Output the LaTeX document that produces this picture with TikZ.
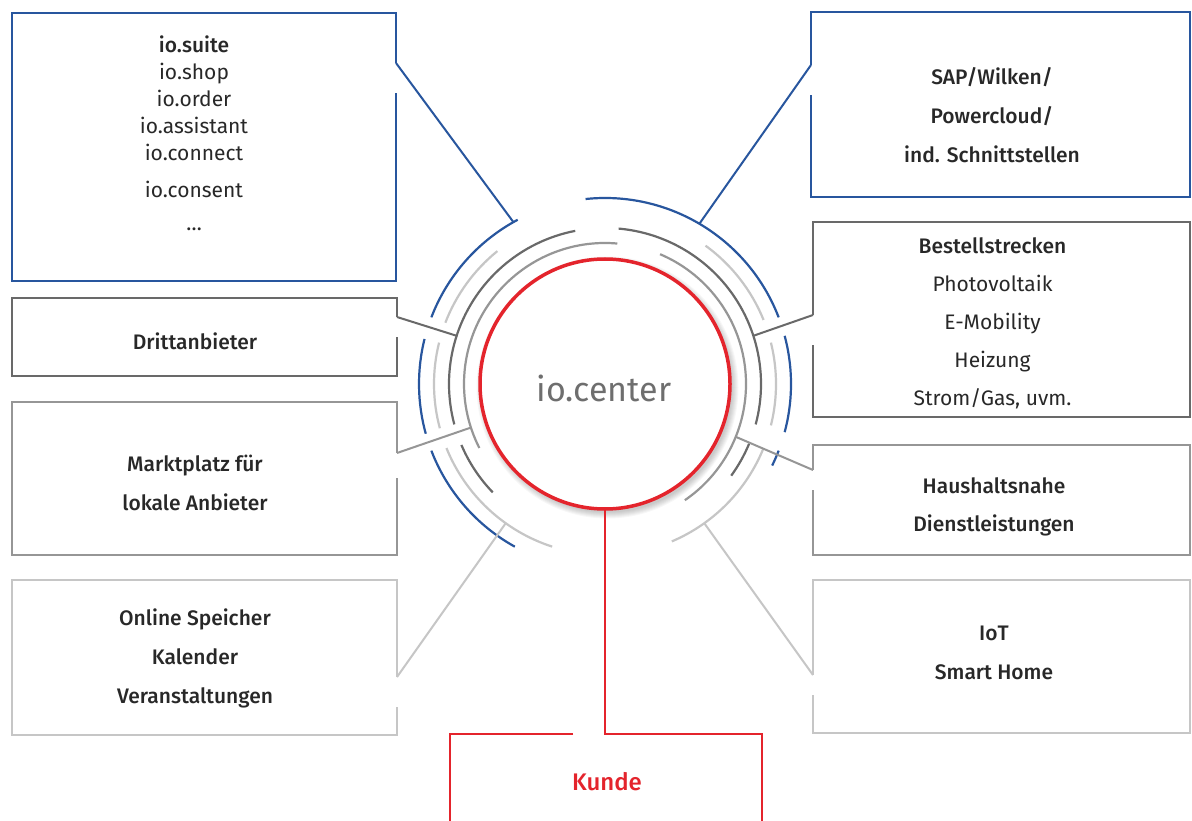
\documentclass[tikz,border=0pt]{standalone}
\usepackage{fontspec}
\setmainfont{Fira Sans}[BoldFont={Fira Sans Medium}]
\definecolor{cblue}{RGB}{40,86,158}
\definecolor{cdark}{RGB}{105,105,105}
\definecolor{cmid}{RGB}{150,150,150}
\definecolor{clight}{RGB}{198,198,198}
\definecolor{cred}{RGB}{228,36,44}
\definecolor{ctext}{RGB}{40,40,40}
\definecolor{cctr}{RGB}{110,110,110}
\newcommand\ringarc[4]{\draw[arcline,draw=#1] (C) ++({-(#3)}:#2) arc[start angle={-(#3)}, end angle={-(#4)}, radius=#2];}
\begin{document}
\begin{tikzpicture}[x=1pt, y=-1pt,
  every node/.style={inner sep=0pt, outer sep=0pt},
  ln/.style={line width=2pt, line join=miter},
  arcline/.style={line width=2.2pt},
  txt/.style={font=\fontsize{21}{#1}\selectfont, align=center, text=ctext, anchor=north},
  txtb/.style={font=\fontsize{21}{#1}\selectfont\bfseries, align=center, text=ctext, anchor=north}]
\useasboundingbox (0,0) rectangle (1192,821);
\fill[white] (0,0) rectangle (1192,821);
\coordinate (C) at (605,384);

% box frames (named nodes, outlines drawn with gaps)
\node[minimum width=384pt, minimum height=268pt] (suite) at (204,147) {};
\node[minimum width=379pt, minimum height=185pt] (sap) at (1000.5,104.5) {};
\node[minimum width=385pt, minimum height=78pt] (dritt) at (204.5,337) {};
\node[minimum width=377pt, minimum height=195pt] (best) at (1001.5,319.5) {};
\node[minimum width=385pt, minimum height=153pt] (markt) at (204.5,478.5) {};
\node[minimum width=377pt, minimum height=110pt] (haus) at (1001.5,500) {};
\node[minimum width=385pt, minimum height=155pt] (online) at (204.5,657.5) {};
\node[minimum width=377pt, minimum height=153pt] (iot) at (1001.5,656.5) {};
\node[minimum width=312pt, minimum height=87pt] (kunde) at (606,777.5) {};

% texts
\node[txt=27pt] (suiteT) at (194,32.7) {\rule{0pt}{20pt}\textbf{io.suite}\\io.shop\\io.order\\io.assistant\\io.connect\\[10pt]io.consent\\[6pt]\dots};
\node[txtb=39pt] (sapT) at (992,65) {\rule{0pt}{20pt}SAP/Wilken/\\Powercloud/\\ind. Schnittstellen};
\node[txt=38pt] (bestT) at (992.5,233) {\rule{0pt}{20pt}\textbf{Bestellstrecken}\\Photovoltaik\\E-Mobility\\Heizung\\Strom/Gas, uvm.};
\node[txtb=38pt] (drittT) at (195,329.3) {\rule{0pt}{20pt}Drittanbieter};
\node[txtb=38.3pt] (marktT) at (195,451.7) {\rule{0pt}{20pt}Marktplatz für\\lokale Anbieter};
\node[txtb=39pt] (onlineT) at (195,605) {\rule{0pt}{20pt}Online Speicher\\Kalender\\Veranstaltungen};
\node[txtb=38.4pt] (hausT) at (994,473.3) {\rule{0pt}{20pt}Haushaltsnahe\\Dienstleistungen};
\node[txtb=39.5pt] (iotT) at (994,620) {\rule{0pt}{20pt}IoT\\Smart Home};
\node[font=\fontsize{24}{30}\selectfont\bfseries, text=cred, anchor=base] (kundeT) at (607,790) {Kunde};

% circle with soft shadow
\foreach \k in {1,...,7}{\fill[black,opacity=0.03] ([shift={(2.5,3.5)}]C) circle[radius=124+\k];}
\node[circle, draw=cred, line width=3.5pt, fill=white, minimum size=250pt] (circ) at (C) {};
\node[font=\fontsize{34}{40}\selectfont, text=cctr, anchor=base] (ctrT) at (604,401.7) {io.center};

% rings
\ringarc{cmid}{141}{85}{207}
\ringarc{cmid}{141}{-55.5}{67}
\ringarc{cdark}{156}{101}{195}
\ringarc{cdark}{156}{203}{224}
\ringarc{cdark}{156}{-15}{85}
\ringarc{cdark}{156}{-36}{-22.5}
\ringarc{clight}{171}{129}{159}
\ringarc{clight}{171}{166}{195}
\ringarc{clight}{171}{202}{252}
\ringarc{clight}{171}{22}{54}
\ringarc{clight}{171}{-14}{14}
\ringarc{clight}{171}{-67}{-22}
\ringarc{cblue}{186}{21}{96}
\ringarc{cblue}{186}{118}{159}
\ringarc{cblue}{186}{166}{195.5}
\ringarc{cblue}{186}{201}{241}
\ringarc{cblue}{186}{-15}{15}
\ringarc{cblue}{186}{-26}{-21}

% connection points on the rings
\path (C) ++(-119.5:186) coordinate (pS);
\path (C) ++(-59.5:186) coordinate (pSap);
\path (C) ++(-162:156) coordinate (pD);
\path (C) ++(-18:156) coordinate (pB);
\path (C) ++(-198:141) coordinate (pM);
\path (C) ++(22:141) coordinate (pH);
\path (C) ++(-234.5:171) coordinate (pO);
\path (C) ++(54.5:171) coordinate (pI);

% outlines with gaps
\draw[ln,draw=cblue] (suite.east |- 0,63) -- (suite.north east) -- (suite.north west) -- (suite.south west) -- (suite.south east) -- (suite.east |- 0,93);
\draw[ln,draw=cblue] (sap.west |- 0,65) -- (sap.north west) -- (sap.north east) -- (sap.south east) -- (sap.south west) -- (sap.west |- 0,95);
\draw[ln,draw=cdark] (dritt.east |- 0,317) -- (dritt.north east) -- (dritt.north west) -- (dritt.south west) -- (dritt.south east) -- (dritt.east |- 0,337);
\draw[ln,draw=cdark] (best.west |- 0,315) -- (best.north west) -- (best.north east) -- (best.south east) -- (best.south west) -- (best.west |- 0,345);
\draw[ln,draw=cmid] (markt.east |- 0,453) -- (markt.north east) -- (markt.north west) -- (markt.south west) -- (markt.south east) -- (markt.east |- 0,478);
\draw[ln,draw=cmid] (haus.west |- 0,470) -- (haus.north west) -- (haus.north east) -- (haus.south east) -- (haus.south west) -- (haus.west |- 0,490);
\draw[ln,draw=clight] (online.east |- 0,677) -- (online.north east) -- (online.north west) -- (online.south west) -- (online.south east) -- (online.east |- 0,707);
\draw[ln,draw=clight] (iot.west |- 0,675) -- (iot.north west) -- (iot.north east) -- (iot.south east) -- (iot.south west) -- (iot.west |- 0,695);

% connectors
\draw[ln,draw=cblue] (suite.east |- 0,63) -- (pS);
\draw[ln,draw=cblue] (sap.west |- 0,65) -- (pSap);
\draw[ln,draw=cdark] (dritt.east |- 0,317) -- (pD);
\draw[ln,draw=cdark] (best.west |- 0,315) -- (pB);
\draw[ln,draw=cmid] (markt.east |- 0,453) -- (pM);
\draw[ln,draw=cmid] (haus.west |- 0,470) -- (pH);
\draw[ln,draw=clight] (online.east |- 0,677) -- (pO);
\draw[ln,draw=clight] (iot.west |- 0,675) -- (pI);

% Kunde
\draw[ln,draw=cred] (circ.south) -- (kunde.north -| circ.south) -- (kunde.north east) -- (kunde.south east);
\draw[ln,draw=cred] (kunde.north -| 573,0) -- (kunde.north west) -- (kunde.south west);
\end{tikzpicture}
\end{document}
